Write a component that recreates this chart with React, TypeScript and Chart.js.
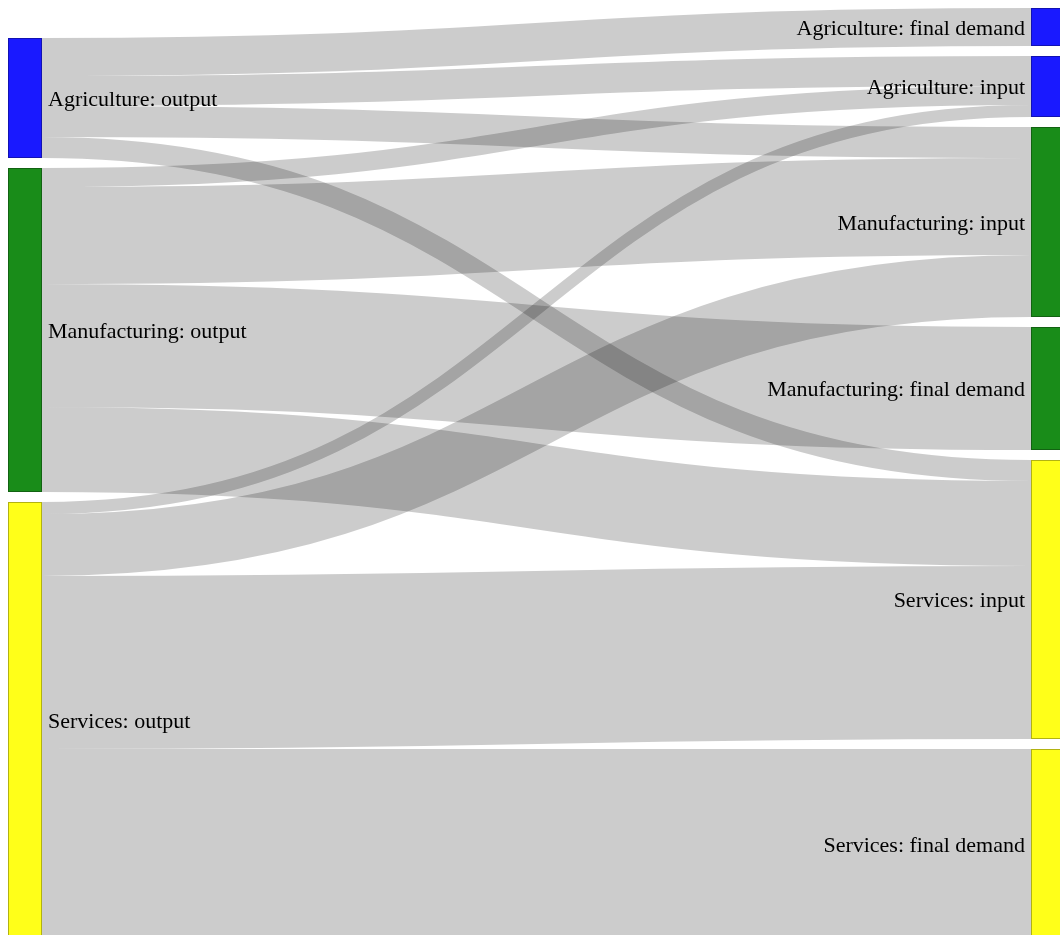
import React, { useEffect, useRef } from 'react';
import { Chart, registerables } from 'chart.js';

Chart.register(...registerables);

// ---- Data ----
const sourceLabels = ['Agriculture: output', 'Manufacturing: output', 'Services: output'];
const sourceColors = ['rgba(0,0,255,0.9)', 'rgba(0,128,0,0.9)', 'rgba(255,255,0,0.9)'];

const targetLabels = [
  'Agriculture: final demand',
  'Agriculture: input',
  'Manufacturing: input',
  'Manufacturing: final demand',
  'Services: input',
  'Services: final demand',
];
const targetColors = [
  'rgba(0,0,255,0.9)',
  'rgba(0,0,255,0.9)',
  'rgba(0,128,0,0.9)',
  'rgba(0,128,0,0.9)',
  'rgba(255,255,0,0.9)',
  'rgba(255,255,0,0.9)',
];

// flows from each output node to the target nodes (same order as targetLabels)
const agricultureFlows = [38, 30, 31, 0, 21, 0];
const manufacturingFlows = [0, 19, 97, 123, 85, 0];
const servicesFlows = [0, 12, 62, 0, 173, 190];

// ---- Style / layout constants ----
const NODE_WIDTH = 34;
const NODE_PADDING = 10;
const CANVAS_W = 1052; // visible part
const CANVAS_H = 927;
const EXTENT_W = 1057; // full sankey width (right nodes run past the window edge)
const FONT_SIZE = 22;
const LABEL_FONT = `${FONT_SIZE}px 'Liberation Serif', 'Times New Roman', serif`;

const sankeyPlugin = {
  id: 'sankeyDraw',
  afterDraw(chart: any) {
    const ctx: CanvasRenderingContext2D = chart.ctx;
    const xs = chart.scales.x;
    const ys = chart.scales.y;
    const flows = [agricultureFlows, manufacturingFlows, servicesFlows];
    const srcTotals = flows.map((r) => r.reduce((a, b) => a + b, 0));
    const tgtTotals = targetLabels.map((_, j) => flows.reduce((a, r) => a + r[j], 0));

    // right column stacked from the top
    const tgtPos: number[][] = [];
    let y = ys.min;
    tgtTotals.forEach((v) => {
      tgtPos.push([y, y + v]);
      y += v + NODE_PADDING;
    });
    const bottom = y - NODE_PADDING;
    // left column aligned to the same bottom
    const srcPos: number[][] = [];
    let yb = bottom;
    for (let i = srcTotals.length - 1; i >= 0; i--) {
      srcPos[i] = [yb - srcTotals[i], yb];
      yb -= srcTotals[i] + NODE_PADDING;
    }

    const leftX0 = xs.getPixelForValue(0);
    const leftX1 = leftX0 + NODE_WIDTH;
    const rightX1 = xs.getPixelForValue(1);
    const rightX0 = rightX1 - NODE_WIDTH;
    const py = (v: number) => ys.getPixelForValue(v);

    ctx.save();
    // links
    const tOff = tgtPos.map((p) => p[0]);
    const xm = (leftX1 + rightX0) / 2;
    flows.forEach((row, i) => {
      let sOff = srcPos[i][0];
      row.forEach((v, j) => {
        if (v <= 0) return;
        const sy = py(sOff + v / 2);
        const ty = py(tOff[j] + v / 2);
        ctx.beginPath();
        ctx.moveTo(leftX1, sy);
        ctx.bezierCurveTo(xm, sy, xm, ty, rightX0, ty);
        ctx.lineWidth = Math.abs(py(v) - py(0));
        ctx.strokeStyle = 'rgba(0,0,0,0.2)';
        ctx.lineCap = 'butt';
        ctx.stroke();
        sOff += v;
        tOff[j] += v;
      });
    });

    // nodes
    const drawNode = (x0: number, p: number[], color: string) => {
      const top = py(p[0]);
      const h = py(p[1]) - top;
      ctx.fillStyle = color;
      ctx.fillRect(x0, top, NODE_WIDTH, h);
      ctx.lineWidth = 1;
      ctx.strokeStyle = 'rgba(0,0,0,0.3)';
      ctx.strokeRect(x0 + 0.5, top + 0.5, NODE_WIDTH - 1, h - 1);
    };
    srcPos.forEach((p, i) => drawNode(leftX0, p, sourceColors[i]));
    tgtPos.forEach((p, j) => drawNode(rightX0, p, targetColors[j]));

    // labels
    ctx.font = LABEL_FONT;
    ctx.fillStyle = '#000';
    ctx.textBaseline = 'alphabetic';
    ctx.textAlign = 'left';
    srcPos.forEach((p, i) => {
      const cy = (py(p[0]) + py(p[1])) / 2 + 0.35 * FONT_SIZE;
      ctx.fillText(sourceLabels[i], leftX1 + 6, cy);
    });
    ctx.textAlign = 'right';
    tgtPos.forEach((p, j) => {
      const cy = (py(p[0]) + py(p[1])) / 2 + 0.35 * FONT_SIZE;
      ctx.fillText(targetLabels[j], rightX0 - 6, cy);
    });
    ctx.restore();
  },
};

export default function App() {
  const canvasRef = useRef<HTMLCanvasElement | null>(null);

  useEffect(() => {
    document.body.style.margin = '8px 0 0 8px';
    document.documentElement.style.overflow = 'hidden';
    const canvas = canvasRef.current;
    if (!canvas) return;
    const chart = new Chart(canvas, {
      type: 'scatter',
      data: { datasets: [{ data: [] }] },
      options: {
        responsive: false,
        maintainAspectRatio: false,
        animation: false,
        devicePixelRatio: 1,
        layout: { padding: 0 },
        scales: {
          x: { type: 'linear', min: 0, max: CANVAS_W / EXTENT_W, display: false },
          y: { type: 'linear', min: 0, max: CANVAS_H, reverse: true, display: false },
        },
        plugins: {
          legend: { display: false },
          tooltip: { enabled: false },
        },
      },
      plugins: [sankeyPlugin],
    } as any);
    return () => chart.destroy();
  }, []);

  return (
    <div style={{ width: CANVAS_W, height: CANVAS_H }}>
      <canvas
        ref={canvasRef}
        width={CANVAS_W}
        height={CANVAS_H}
        style={{ display: 'block', width: CANVAS_W, height: CANVAS_H }}
      />
    </div>
  );
}
